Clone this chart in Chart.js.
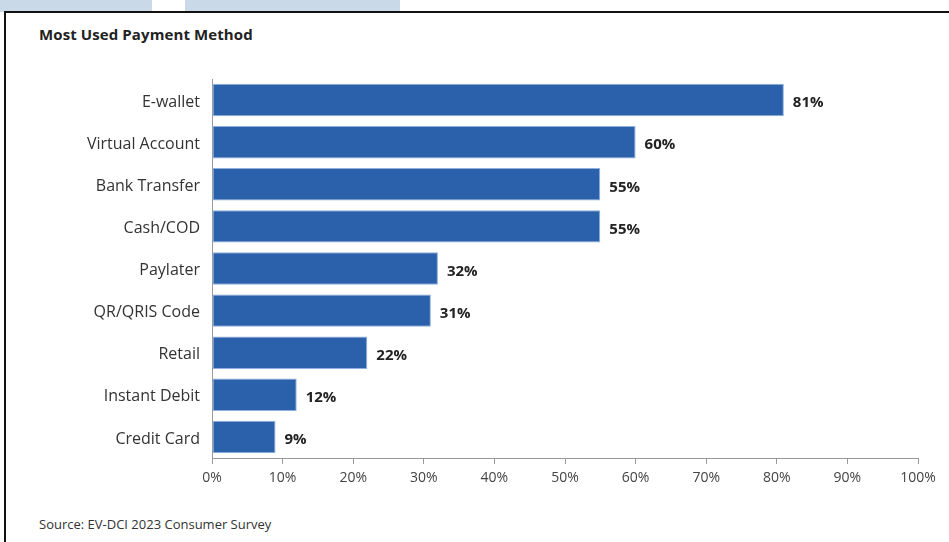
<!DOCTYPE html>
<html>
<head>
<meta charset="utf-8">
<script src="https://cdn.jsdelivr.net/npm/chart.js@4"></script>
<style>
  html, body { margin:0; padding:0; background:#fff; width:949px; height:542px; overflow:hidden; font-family:"Open Sans", sans-serif; }
  .deco { position:absolute; top:0; height:12px; background:#c9d9e8; }
  #frame { position:absolute; left:4px; top:11px; width:960px; height:560px; border:2px solid #111; box-sizing:border-box; }
  #title { position:absolute; left:39px; top:24px; font-size:15px; font-weight:700; color:#222; letter-spacing:0.1px; }
  #source { position:absolute; left:39px; top:515px; font-size:13px; color:#333; }
  #wrap { position:absolute; left:0; top:0; width:949px; height:542px; }
</style>
</head>
<body>
<div class="deco" style="left:0;width:152px"></div>
<div class="deco" style="left:185px;width:215px"></div>
<div id="frame"></div>
<div id="title">Most Used Payment Method</div>
<div id="source">Source: EV-DCI 2023 Consumer Survey</div>
<div id="wrap"><canvas id="c" width="949" height="542"></canvas></div>
<script>
const categories = ["E-wallet","Virtual Account","Bank Transfer","Cash/COD","Paylater","QR/QRIS Code","Retail","Instant Debit","Credit Card"];
const values = [81,60,55,55,32,31,22,12,9];
const tickValues = [0,10,20,30,40,50,60,70,80,90,100];

const labelPlugin = {
  id:'barLabels',
  afterDatasetsDraw(chart){
    const ctx = chart.ctx;
    const meta = chart.getDatasetMeta(0);
    ctx.save();
    ctx.font = '700 15px "Open Sans"';
    ctx.fillStyle = '#222';
    ctx.textAlign = 'left';
    ctx.textBaseline = 'middle';
    meta.data.forEach((bar,i)=>{
      ctx.fillText(values[i] + '%', bar.x + 9, bar.y + 3);
    });
    ctx.restore();
  }
};

new Chart(document.getElementById('c'), {
  type:'bar',
  data:{ labels:categories, datasets:[{ data:values, backgroundColor:'#2b60aa', borderColor:'#8fb0dc', borderWidth:1, borderSkipped:false, barPercentage:0.77, categoryPercentage:1 }]},
  options:{
    indexAxis:'y',
    responsive:false,
    animation:false,
    layout:{ padding:{ top:79, right:31, bottom:44, left:0 } },
    plugins:{ legend:{display:false}, tooltip:{enabled:false}, title:{display:false} },
    scales:{
      x:{
        min:0, max:100,
        afterBuildTicks(s){ s.ticks = tickValues.map(v=>({value:v})); },
        afterFit(s){ s.height = 40; },
        grid:{ display:true, drawOnChartArea:false, drawTicks:true, tickLength:6, color:'#999' },
        border:{ display:true, color:'#999', width:1 },
        ticks:{ callback:(v)=>v+'%', font:{ family:'"Open Sans"', size:14 }, color:'#444', padding:6, maxRotation:0 }
      },
      y:{
        afterFit(s){ s.width = 212; },
        grid:{ display:false, drawTicks:false },
        border:{ display:true, color:'#999', width:1 },
        ticks:{ font:{ family:'"Open Sans"', size:16 }, color:'#333', padding:12, labelOffset:2 }
      }
    }
  },
  plugins:[labelPlugin]
});
</script>
</body>
</html>
